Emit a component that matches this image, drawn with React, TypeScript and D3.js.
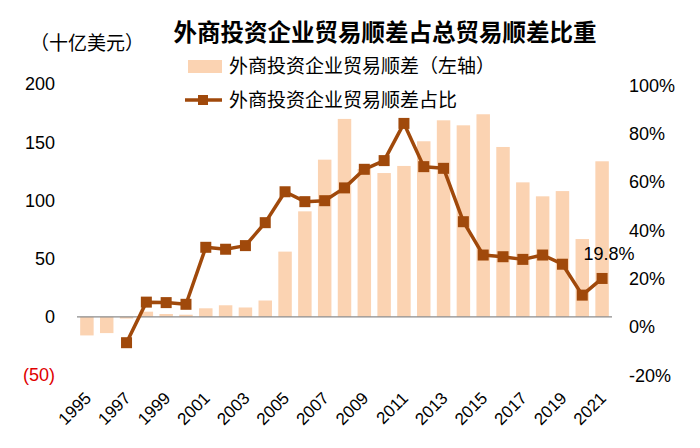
import React from "react";
import * as d3 from "d3";

const years = d3.range(1995, 2022).map(String);
const surplus = [-16, -14, -1.5, 4.4, 2.4, 1.8, 7.3, 9.9, 8, 14, 56, 90.6, 135, 170, 127, 123.5, 129.6, 150.8, 168.8, 164.5, 174, 145.9, 115.5, 103.5, 108, 66.8, 133.6];
const share: (number | null)[] = [null, null, -6.5, 10.3, 10.1, 9.4, 33, 32.2, 33.7, 43.2, 56, 51.9, 52.3, 57.6, 65.3, 68.9, 84.3, 66.4, 65.7, 43.6, 29.8, 29.1, 28, 29.8, 26, 13.2, 20.1];
const leftTicks = [-50, 0, 50, 100, 150, 200];
const rightTicks = [-20, 0, 20, 40, 60, 80, 100];
const xLabels = years.filter((_, i) => i % 2 === 0);

const title = "外商投资企业贸易顺差占总贸易顺差比重";
const unit = "（十亿美元）";
const legendBar = "外商投资企业贸易顺差（左轴）";
const legendLine = "外商投资企业贸易顺差占比";
const lastLabel = "19.8%";

const BAR = "#FBD3B2";
const LINE = "#A0490B";
const CJK = "'Noto Sans CJK SC', sans-serif";
const NUM = "'Liberation Sans', Arial, sans-serif";

export default function App() {
  const x = d3.scaleBand<string>().domain(years).range([77, 612]).paddingInner(0.32).paddingOuter(0.16);
  const yL = d3.scaleLinear().domain([-50, 200]).range([375, 84]);
  const yR = d3.scaleLinear().domain([-20, 100]).range([375.3, 85.5]);
  const cx = (y: string) => (x(y) as number) + x.bandwidth() / 2;

  const pts = years.map((yr, i) => ({ yr, v: share[i] })).filter((d) => d.v !== null) as { yr: string; v: number }[];
  const line = d3.line<{ yr: string; v: number }>().x((d) => cx(d.yr)).y((d) => yR(d.v));
  const last = pts[pts.length - 1];

  return (
    <svg width={700} height={448} style={{ display: "block", position: "absolute", left: 0, top: 0 }}>
      <rect width={700} height={448} fill="#fff" />
      <text x={385} y={33} textAnchor="middle" dy="0.35em" fontFamily={CJK} fontWeight="bold" fontSize={23.5} fill="#000">{title}</text>
      <text x={30} y={43} dy="0.35em" fontFamily={CJK} fontSize={19} fill="#000">{unit}</text>

      {/* legend */}
      <rect x={188} y={60} width={34} height={13} fill={BAR} />
      <text x={229} y={66} dy="0.35em" fontFamily={CJK} fontSize={19} fill="#000">{legendBar}</text>
      <line x1={185} x2={222} y1={100} y2={100} stroke={LINE} strokeWidth={3.5} />
      <rect x={198} y={95} width={10} height={10} fill={LINE} />
      <text x={229} y={100} dy="0.35em" fontFamily={CJK} fontSize={19} fill="#000">{legendLine}</text>

      {/* left axis */}
      {leftTicks.map((t) => (
        <text key={t} x={55} y={yL(t)} dy="0.35em" textAnchor="end" fontFamily={NUM} fontSize={18} fill={t < 0 ? "#E00000" : "#000"}>
          {t < 0 ? `(${Math.abs(t)})` : t}
        </text>
      ))}
      {/* right axis */}
      {rightTicks.map((t) => (
        <text key={t} x={629} y={yR(t)} dy="0.35em" textAnchor="start" fontFamily={NUM} fontSize={18} fill="#000">{`${t}%`}</text>
      ))}

      {/* bars */}
      {years.map((yr, i) => (
        <rect key={yr} x={x(yr)} width={x.bandwidth()} y={Math.min(yL(surplus[i]), yL(0))} height={Math.abs(yL(surplus[i]) - yL(0))} fill={BAR} />
      ))}
      <line x1={77} x2={612} y1={yL(0)} y2={yL(0)} stroke="#8C8C8C" strokeWidth={1.3} />

      {/* line */}
      <path d={line(pts) as string} fill="none" stroke={LINE} strokeWidth={3.5} strokeLinejoin="round" />
      {pts.map((d) => (
        <rect key={d.yr} x={cx(d.yr) - 5.5} y={yR(d.v) - 5.5} width={11} height={11} fill={LINE} />
      ))}
      <text x={cx(last.yr) + 7} y={yR(last.v) - 25} dy="0.35em" textAnchor="middle" fontFamily={NUM} fontSize={18} fill="#000">{lastLabel}</text>

      {/* x labels */}
      {xLabels.map((yr) => (
        <text key={yr} transform={`translate(${cx(yr) + 1},${395}) rotate(-45)`} textAnchor="end" dy="0.35em" fontFamily={NUM} fontSize={17} fill="#000">{yr}</text>
      ))}
    </svg>
  );
}
